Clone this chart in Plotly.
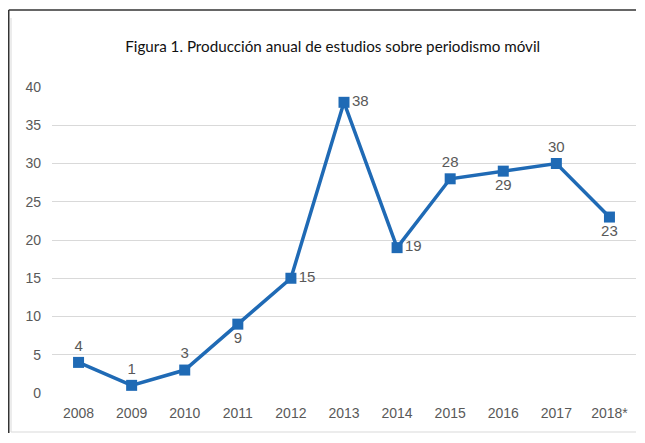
import plotly.graph_objects as go

years = ["2008", "2009", "2010", "2011", "2012", "2013", "2014", "2015", "2016", "2017", "2018*"]
values = [4, 1, 3, 9, 15, 38, 19, 28, 29, 30, 23]
label_pos = ["top center", "top center", "top center", "bottom center", "middle right",
             "middle right", "middle right", "top center", "bottom center", "top center", "bottom center"]
y_ticks = [0, 5, 10, 15, 20, 25, 30, 35, 40]

blue = "#1F6AB5"
grey = "#595959"
tick_font = dict(family="Liberation Sans", size=14, color=grey)

# figure sized to sit inside the page's default 8px body margin
W, H = 628, 425
L, T = 44, 79          # plot area left / top (svg px)
PW, PH = 584, 306      # plot area width / height


def px(xs):
    return (xs - L) / PW


def py(ys):
    return (T + PH - ys) / PH


fig = go.Figure()
fig.add_trace(go.Scatter(
    x=years, y=values, mode="lines+markers+text",
    line=dict(color=blue, width=3.5),
    marker=dict(symbol="square", size=11, color=blue),
    text=[str(v) for v in values], textposition=label_pos,
    textfont=dict(family="Liberation Sans", size=15, color=grey),
    cliponaxis=False, showlegend=False,
))

fig.update_layout(
    width=W, height=H,
    margin=dict(l=L, r=W - L - PW, t=T, b=H - T - PH, autoexpand=False),
    paper_bgcolor="white", plot_bgcolor="white",
    title=dict(text="Figura 1. Producción anual de estudios sobre periodismo móvil",
               x=0.517, xanchor="center", y=1 - 39 / H, yanchor="middle",
               font=dict(family="Lato", size=15.2, color="#111111")),
    xaxis=dict(type="category", range=[-0.5, 10.5], autorange=False, showgrid=False,
               showline=False, zeroline=False, tickfont=tick_font, ticks="",
               ticklabelstandoff=10, automargin=False),
    yaxis=dict(range=[0, 40], autorange=False, tickvals=y_ticks, showgrid=True,
               gridcolor="#D9D9D9", gridwidth=1, zeroline=False, showline=False,
               tickfont=tick_font, ticks="", ticklabelstandoff=10, automargin=False),
    shapes=[
        dict(type="line", xref="paper", yref="paper", x0=px(0.75), x1=px(W),
             y0=py(2), y1=py(2), line=dict(color="#333333", width=1.5)),
        dict(type="line", xref="paper", yref="paper", x0=px(0.75), x1=px(0.75),
             y0=py(2), y1=py(H), line=dict(color="#333333", width=1.5)),
        dict(type="line", xref="paper", yref="paper", x0=px(3), x1=px(W),
             y0=py(424), y1=py(424), line=dict(color="#D9D9D9", width=1)),
        dict(type="line", xref="paper", yref="paper", x0=px(3), x1=px(3),
             y0=py(424), y1=py(10), line=dict(color="#D9D9D9", width=1)),
    ],
)

fig.write_html("out.html")
